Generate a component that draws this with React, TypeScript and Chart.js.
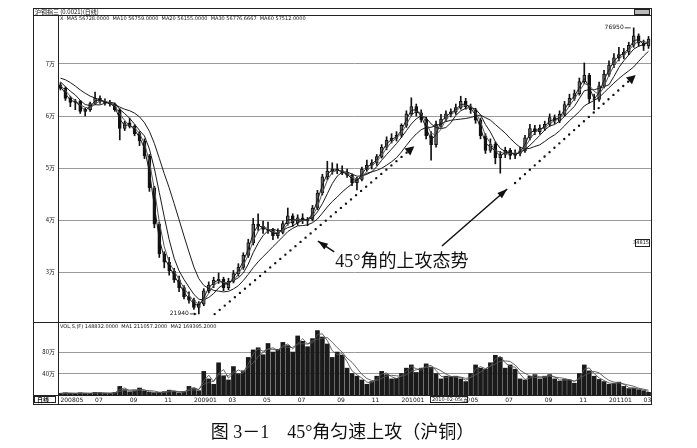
import React, { useEffect, useRef } from 'react';
import { Chart, registerables } from 'chart.js';

Chart.register(...registerables);

// ---- data (each candle ≈ one trading week, 2008-05 … 2011-03) ----
const opens = [
  66000, 65300, 63400, 62600, 62900, 60900, 61200, 62400, 63400, 62800,
  62500, 62300, 61200, 57600, 58700, 58000, 56600, 55200, 52300, 46200,
  39200, 33500, 31900, 30200, 28500, 27000, 25200, 24600, 23200, 23800,
  26400, 27500, 28400, 28600, 27000, 28200, 29700, 30900, 33200, 35600,
  39200, 38800, 38200, 38000, 37000, 37600, 39300, 40800, 39400, 40400,
  39800, 40100, 42300, 45200, 48300, 49400, 49800, 49500, 49000, 48600,
  47200, 47800, 49800, 50500, 51000, 52200, 54000, 55300, 55700, 56300,
  58200, 60400, 61800, 60600, 59300, 56200, 54500, 58400, 59400, 60400,
  60800, 61600, 62800, 61800, 61200, 59200, 56200, 53400, 54600, 52000,
  52600, 53400, 52400, 52800, 53300, 55800, 57600, 57000, 57700, 58400,
  59700, 59000, 60300, 62200, 63400, 64300, 66600, 67800, 63300, 63200,
  65800, 68000, 69800, 71200, 71800, 72300, 73600, 75400, 74000, 73500,
];
const highs = [
  66400, 65600, 63800, 63200, 63000, 61500, 62700, 64600, 63900, 63300,
  63000, 62500, 61400, 59000, 59600, 58300, 57000, 55600, 52600, 46500,
  39600, 33900, 32800, 30700, 29200, 27400, 26200, 25000, 24300, 26800,
  28100, 29000, 29800, 29000, 28800, 30300, 31600, 33700, 36300, 40300,
  41200, 39800, 39600, 38400, 38300, 39800, 42300, 41200, 41000, 41200,
  40500, 42800, 45700, 48800, 51300, 51000, 50800, 50400, 49800, 48900,
  48200, 50200, 51500, 51600, 52600, 54500, 56000, 56600, 57000, 58500,
  61000, 63500, 62300, 61200, 59800, 57000, 59000, 60300, 61000, 61400,
  62300, 63800, 63400, 62300, 61500, 59600, 56600, 55600, 55000, 53200,
  54000, 53800, 53500, 54000, 56300, 58400, 58200, 58300, 59000, 60400,
  60200, 61000, 62800, 64200, 65000, 67300, 70200, 68200, 64200, 66500,
  68800, 70600, 72000, 73200, 73000, 74200, 76950, 75800, 74600, 75300,
];
const lows = [
  65000, 63000, 61800, 61200, 60500, 60000, 60900, 62200, 62400, 62100,
  61900, 60900, 55400, 57200, 57700, 56200, 54300, 51800, 45500, 38500,
  32800, 30800, 29400, 28000, 26200, 24800, 24000, 22800, 21940, 23500,
  26000, 27000, 27800, 26400, 26600, 27900, 29200, 30500, 32800, 35200,
  38000, 37400, 37400, 36200, 36500, 37300, 39000, 38800, 39000, 39300,
  38900, 39800, 42000, 44800, 47700, 48800, 48900, 48700, 48200, 46600,
  45800, 47500, 49400, 49800, 50500, 51900, 53500, 54800, 55200, 55900,
  57800, 60000, 60000, 58800, 55600, 51500, 54000, 57800, 59000, 59800,
  60300, 61300, 61300, 60500, 58600, 55600, 52800, 53000, 50800, 49000,
  52000, 51700, 51800, 52300, 53000, 55400, 56400, 56500, 57200, 58000,
  58500, 58700, 60000, 61800, 63000, 64000, 66200, 62500, 61200, 62800,
  65400, 67600, 69300, 70600, 71000, 71800, 73200, 73400, 72600, 73000,
];
const closes = [
  65300, 63400, 62600, 62900, 60900, 61200, 62400, 63400, 62800, 62500,
  62300, 61200, 57600, 58700, 58000, 56600, 55200, 52300, 46200, 39200,
  33500, 31900, 30200, 28500, 27000, 25200, 24600, 23200, 23800, 26400,
  27500, 28400, 28600, 27000, 28200, 29700, 30900, 33200, 35600, 39200,
  38800, 38200, 38000, 37000, 37600, 39300, 40800, 39400, 40400, 39800,
  40100, 42300, 45200, 48300, 49400, 49800, 49500, 49000, 48600, 47200,
  47800, 49800, 50500, 51000, 52200, 54000, 55300, 55700, 56300, 58200,
  60400, 61800, 60600, 59300, 56200, 54500, 58400, 59400, 60400, 60800,
  61600, 62800, 61800, 61200, 59200, 56200, 53400, 54600, 52000, 52600,
  53400, 52400, 52800, 53300, 55800, 57600, 57000, 57700, 58400, 59700,
  59000, 60300, 62200, 63400, 64300, 66600, 67800, 63300, 63200, 65800,
  68000, 69800, 71200, 71800, 72300, 73600, 75400, 74000, 73500, 74800,
];
// closes before the first visible candle (only used for the moving averages)
const preCloses = [66500, 68000, 69500, 68500, 67500, 68000, 67000, 66500, 66000];
// volume, in 万
const volumes = [
  3, 4, 3, 3, 4, 3, 3, 5, 4, 3,
  3, 5, 16, 10, 6, 8, 13, 7, 5, 4,
  5, 6, 9, 7, 4, 6, 16, 12, 8, 44,
  30, 20, 60, 35, 28, 53, 40, 45, 70, 84,
  88, 75, 96, 80, 85, 98, 92, 80, 110, 100,
  90, 105, 120, 108, 95, 70, 80, 74, 50, 40,
  35, 28, 20, 25, 35, 44, 38, 30, 31, 40,
  50, 56, 42, 50, 58, 52, 40, 30, 35, 34,
  35, 30, 25, 40, 56, 50, 48, 60, 74, 70,
  50, 56, 48, 30, 28, 35, 38, 30, 35, 38,
  30, 26, 29, 28, 22, 40, 56, 45, 35, 29,
  25, 20, 22, 24, 16, 12, 13, 10, 8, 5,
];
const maWindows = [2, 3, 5, 10];
const volMaWindows = [2, 4];

const tickIndex = [0, 7, 14, 21, 27, 34, 41, 48, 56, 63, 69, 83, 90, 98, 105, 111, 118];
const tickLabels = ['200805', '07', '09', '11', '200901', '03', '05', '07', '09', '11', '201001', '05', '07', '09', '11', '201101', '03'];
const priceTicks = [30000, 40000, 50000, 60000, 70000];
const priceTickLabels = ['3万', '4万', '5万', '6万', '7万'];
const volTicks = [40, 80];
const volTickLabels = ['40万', '80万'];

const headerText = '沪铜指三 (0.0021)(日线)';
const maLegend = 'X  MA5 56728.0000  MA10 56759.0000  MA20 56155.0000  MA30 56776.6667  MA60 57512.0000';
const volLegend = 'VOL,S,(F) 148832.0000  MA1 211057.2000  MA2 169395.2000';
const cursorDate = '2010-02-05(五)';
const cursorIndex = 75;
const cursorValueText = '34815';
const cursorValue = 35580;

// annotation (in data units: candle index, price)
const trendLine1 = [{ x: 31.2, y: 21900 }, { x: 71.6, y: 54200 }];
const trendLine2 = [{ x: 92.0, y: 47120 }, { x: 116.4, y: 67900 }];
const arrowLeft = { from: { x: 55.4, y: 33850 }, to: { x: 52.1, y: 35960 } };
const arrowRight = { from: { x: 77.2, y: 35000 }, to: { x: 90.4, y: 45960 } };
const noteText = '45°角的上攻态势';
const noteAnchor = { x: 55.6, y: 30900 };
const caption = '图 3－1　45°角匀速上攻（沪铜）';

function movingAverage(w: number) {
  const all = preCloses.concat(closes);
  const off = preCloses.length;
  return closes.map((_, i) => {
    const j = i + off;
    const s0 = Math.max(0, j - w + 1);
    let s = 0;
    for (let k = s0; k <= j; k++) s += all[k];
    return { x: i, y: s / (j - s0 + 1) };
  });
}
function volMovingAverage(w: number) {
  return volumes.map((_, i) => {
    const s0 = Math.max(0, i - w + 1);
    let s = 0;
    for (let k = s0; k <= i; k++) s += volumes[k];
    return { x: i, y: s / (i - s0 + 1) };
  });
}

function head(ctx: CanvasRenderingContext2D, x1: number, y1: number, x2: number, y2: number, len: number, half: number) {
  const a = Math.atan2(y2 - y1, x2 - x1);
  const bx = x2 - len * Math.cos(a), by = y2 - len * Math.sin(a);
  ctx.beginPath();
  ctx.moveTo(x2, y2);
  ctx.lineTo(bx + half * Math.sin(a), by - half * Math.cos(a));
  ctx.lineTo(bx - half * Math.sin(a), by + half * Math.cos(a));
  ctx.closePath();
  ctx.fill();
}

const deco = {
  id: 'deco',
  afterDatasetsDraw(chart: any) {
    const { ctx, scales } = chart;
    const sx = scales.x, sy = scales.y;
    const px = (v: number) => sx.getPixelForValue(v);
    const py = (v: number) => sy.getPixelForValue(v);
    ctx.save();
    ctx.fillStyle = '#111';
    ctx.strokeStyle = '#111';
    [trendLine1, trendLine2].forEach((t) => {
      const a = t[0], b = t[t.length - 1];
      head(ctx, px(a.x), py(a.y), px(b.x), py(b.y), 9, 4.5);
    });
    [arrowLeft, arrowRight].forEach((a) => {
      const x1 = px(a.from.x), y1 = py(a.from.y), x2 = px(a.to.x), y2 = py(a.to.y);
      ctx.lineWidth = 1.5;
      ctx.beginPath();
      ctx.moveTo(x1, y1);
      ctx.lineTo(x2, y2);
      ctx.stroke();
      head(ctx, x1, y1, x2, y2, 10, 3.5);
    });
    ctx.font = '18px "Liberation Serif", "Noto Sans CJK SC"';
    ctx.textAlign = 'left';
    ctx.textBaseline = 'alphabetic';
    ctx.fillText(noteText, px(noteAnchor.x), py(noteAnchor.y));

    // extreme labels
    let hi = 0, lo = 0;
    highs.forEach((v, i) => { if (v > highs[hi]) hi = i; });
    lows.forEach((v, i) => { if (v < lows[lo]) lo = i; });
    ctx.font = '6px "DejaVu Sans"';
    ctx.textBaseline = 'middle';
    ctx.textAlign = 'right';
    ctx.lineWidth = 0.8;
    const hx = px(hi), hy = py(highs[hi]);
    ctx.fillText(String(highs[hi]), hx - 10, hy);
    ctx.beginPath(); ctx.moveTo(hx - 9, hy); ctx.lineTo(hx - 3, hy); ctx.stroke();
    const lx = px(lo), ly = py(lows[lo]);
    ctx.fillText(String(lows[lo]), lx - 10, ly);
    ctx.beginPath(); ctx.moveTo(lx - 9, ly); ctx.lineTo(lx - 3, ly); ctx.stroke();
    head(ctx, lx - 9, ly, lx - 2, ly, 3, 1.5);
    ctx.restore();
  },
  afterDraw(chart: any) {
    const { ctx, chartArea: ca, scales } = chart;
    const sv = scales.yv, sx = scales.x, sy = scales.y;
    const L = ca.left - 25, R = ca.right, T = ca.top - 7, B = ca.bottom + 9;
    ctx.save();
    ctx.strokeStyle = '#222';
    ctx.lineWidth = 1;
    const ln = (x1: number, y1: number, x2: number, y2: number) => {
      ctx.beginPath(); ctx.moveTo(x1, y1); ctx.lineTo(x2, y2); ctx.stroke();
    };
    ctx.strokeRect(L + 0.5, T + 0.5, R - L, B - T);
    ln(L, ca.top + 0.5, R, ca.top + 0.5);
    ln(ca.left + 0.5, ca.top, ca.left + 0.5, B);
    ln(L, Math.round(sv.top) + 0.5, R, Math.round(sv.top) + 0.5);
    ln(L, ca.bottom + 0.5, R, ca.bottom + 0.5);

    ctx.fillStyle = '#111';
    ctx.textBaseline = 'middle';
    ctx.textAlign = 'left';
    ctx.font = '6px "Noto Sans CJK SC"';
    ctx.fillText(headerText, L + 2, T + 4);
    ctx.strokeRect(R - 16.5, T + 1.5, 15, 5);
    ctx.fillStyle = '#bbb';
    ctx.fillRect(R - 16, T + 2, 14, 4);
    ctx.fillStyle = '#111';
    ctx.font = '5px "DejaVu Sans"';
    ctx.fillText(maLegend, ca.left + 2, ca.top + 4);
    ctx.fillText(volLegend, ca.left + 2, sv.top + 5);

    // x-axis row boxes
    ctx.font = 'bold 6px "Noto Sans CJK SC"';
    ctx.strokeRect(L + 1.5, ca.bottom + 1.5, 21, 6);
    ctx.fillText('日线', L + 4, ca.bottom + 4.8);
    ctx.font = '5px "DejaVu Sans", "Noto Sans CJK SC"';
    const dx = Math.round(sx.getPixelForValue(cursorIndex)) - 1;
    ctx.fillStyle = '#fff';
    ctx.fillRect(dx, ca.bottom + 1, 38, 7);
    ctx.fillStyle = '#111';
    ctx.strokeRect(dx + 0.5, ca.bottom + 1.5, 37, 6);
    ctx.fillText(cursorDate, dx + 2, ca.bottom + 4.8);

    // cursor value box at right
    const cy = Math.round(sy.getPixelForValue(cursorValue));
    ctx.strokeRect(R - 15.5, cy - 3.5, 14, 7);
    ctx.textAlign = 'right';
    ctx.fillText(cursorValueText, R - 2, cy);
    ctx.restore();
  },
};

export default function App() {
  const ref = useRef<HTMLCanvasElement | null>(null);
  useEffect(() => {
    if (!ref.current) return;
    const N = closes.length;
    const bodyColors = closes.map((c, i) => (c >= opens[i] ? '#666666' : '#111111'));
    const datasets: any[] = [
      {
        type: 'line', data: trendLine1, borderColor: '#111', borderWidth: 2.4,
        borderDash: [0, 6.6], borderCapStyle: 'round', pointRadius: 0, yAxisID: 'y', order: 0,
      },
      {
        type: 'line', data: trendLine2, borderColor: '#111', borderWidth: 2.4,
        borderDash: [0, 6.6], borderCapStyle: 'round', pointRadius: 0, yAxisID: 'y', order: 0,
      },
      ...maWindows.map((w, k) => ({
        type: 'line', data: movingAverage(w), borderColor: k === 1 ? '#555' : '#1a1a1a',
        borderWidth: 1, pointRadius: 0, tension: 0, yAxisID: 'y', order: 1,
      })),
      {
        type: 'bar', data: closes.map((c, i) => ({ x: i, y: [opens[i], c] })),
        backgroundColor: bodyColors, borderColor: '#111', borderWidth: 1, borderSkipped: false,
        barThickness: 3, grouped: false, yAxisID: 'y', order: 2,
      },
      {
        type: 'bar', data: closes.map((_, i) => ({ x: i, y: [lows[i], highs[i]] })),
        backgroundColor: '#111', borderWidth: 0, barThickness: 1, grouped: false, yAxisID: 'y', order: 3,
      },
      {
        type: 'bar', data: volumes.map((v, i) => ({ x: i, y: v })),
        backgroundColor: '#1a1a1a', borderWidth: 0, barThickness: 4, grouped: false, yAxisID: 'yv', order: 3,
      },
      ...volMaWindows.map((w) => ({
        type: 'line', data: volMovingAverage(w), borderColor: '#555', borderWidth: 0.9,
        pointRadius: 0, tension: 0, yAxisID: 'yv', order: 1,
      })),
    ];
    const chart = new Chart(ref.current, {
      type: 'bar',
      data: { datasets },
      plugins: [deco],
      options: {
        animation: false,
        responsive: false,
        devicePixelRatio: 1,
        events: [],
        layout: { padding: { left: 33, top: 15, right: 46, bottom: 44 } },
        plugins: { legend: { display: false }, tooltip: { enabled: false } },
        scales: {
          x: {
            type: 'linear', min: -0.5, max: N - 0.5, offset: false,
            grid: { display: false, drawTicks: false }, border: { display: false },
            afterBuildTicks: (s: any) => { s.ticks = tickIndex.map((v) => ({ value: v })); },
            afterFit: (s: any) => { s.height = 9; },
            ticks: {
              autoSkip: false, maxRotation: 0, align: 'start', padding: 2, color: '#111',
              font: { size: 6, family: 'DejaVu Sans' },
              callback: (v: any) => { const k = tickIndex.indexOf(v); return k >= 0 ? tickLabels[k] : ''; },
            },
          },
          y: {
            type: 'linear', position: 'left', stack: 'main', stackWeight: 307, weight: 1,
            min: 20385, max: 79423,
            grid: { color: '#9a9a9a', drawTicks: false }, border: { display: false },
            afterBuildTicks: (s: any) => { s.ticks = priceTicks.map((v) => ({ value: v })); },
            afterFit: (s: any) => { s.width = 25; },
            ticks: {
              padding: 3, color: '#111', font: { size: 6, family: 'Noto Sans CJK SC' },
              callback: (v: any) => priceTickLabels[priceTicks.indexOf(v)],
            },
          },
          yv: {
            type: 'linear', position: 'left', stack: 'main', stackWeight: 73, weight: 0,
            min: 0, max: 136,
            grid: { color: '#9a9a9a', drawTicks: false }, border: { display: false },
            afterBuildTicks: (s: any) => { s.ticks = volTicks.map((v) => ({ value: v })); },
            afterFit: (s: any) => { s.width = 25; },
            ticks: {
              padding: 3, color: '#111', font: { size: 6, family: 'Noto Sans CJK SC' },
              callback: (v: any) => volTickLabels[volTicks.indexOf(v)],
            },
          },
        },
      } as any,
    });
    return () => chart.destroy();
  }, []);

  return (
    <div style={{ position: 'absolute', left: 0, top: 0, width: 697, height: 448, background: '#fff' }}>
      <canvas ref={ref} width={697} height={448} style={{ position: 'absolute', left: 0, top: 0, width: 697, height: 448 }} />
      <div
        style={{
          position: 'absolute', left: 0, top: 421, width: 697, textAlign: 'center',
          font: '18px "Liberation Serif", "Noto Sans CJK SC"', lineHeight: '22px', color: '#111',
          paddingRight: 12, boxSizing: 'border-box',
        }}
      >
        {caption}
      </div>
    </div>
  );
}
